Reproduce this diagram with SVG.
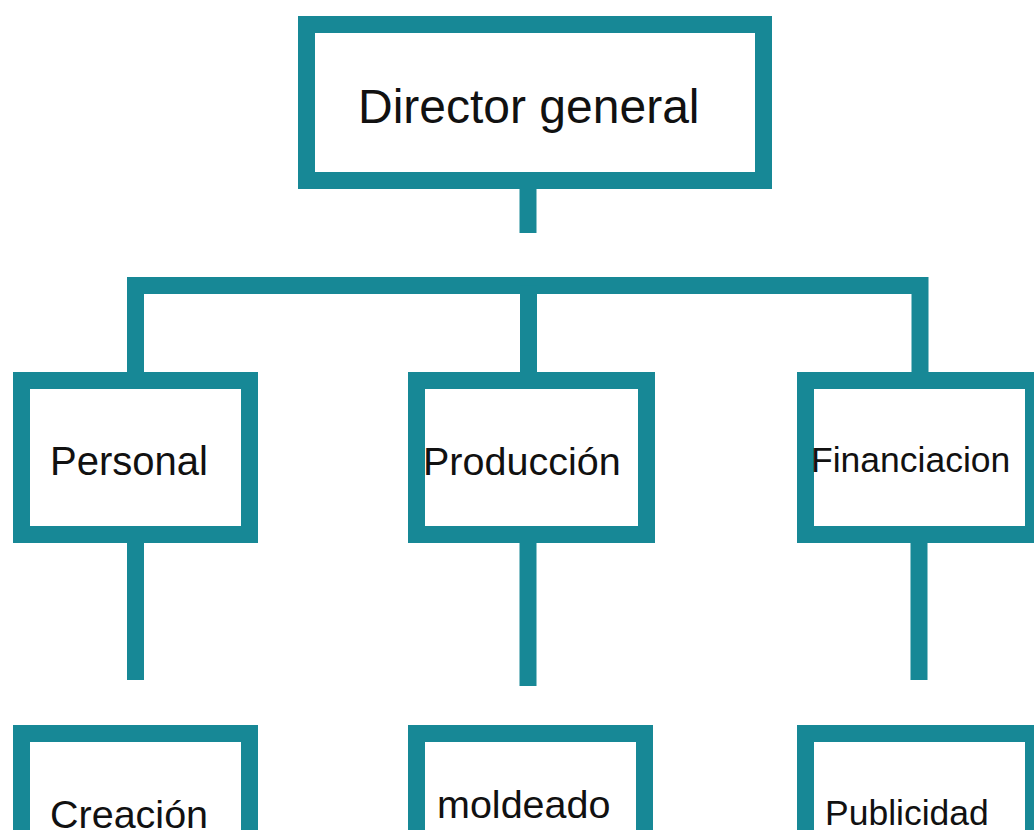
<svg xmlns="http://www.w3.org/2000/svg" width="1034" height="830" viewBox="0 0 1034 830">
<style>
.box{fill:#ffffff;stroke:#178896;stroke-width:17;}
.ln{fill:none;stroke:#178896;stroke-width:17;stroke-linecap:butt;stroke-linejoin:miter;}
.t{font-family:"Liberation Sans",Arial,sans-serif;fill:#111111;}
</style>
<rect width="1034" height="830" fill="#ffffff"/>
<g id="connectors">
<path class="ln" d="M528 189 V233"/>
<path class="ln" d="M135.5 372 V285.5 H920 V372"/>
<path class="ln" d="M528.5 285.5 V372"/>
<path class="ln" d="M135.5 543 V680"/>
<path class="ln" d="M528 543 V686"/>
<path class="ln" d="M919 543 V680"/>
</g>
<g id="director">
<rect class="box" x="306.5" y="24.5" width="457" height="156"/>
<text class="t" x="358" y="123" font-size="48">Director general</text>
</g>
<g id="personal">
<rect class="box" x="21.5" y="380.5" width="228" height="154"/>
<text class="t" x="50" y="475" font-size="40">Personal</text>
</g>
<g id="produccion">
<rect class="box" x="416.5" y="380.5" width="230" height="154"/>
<text class="t" x="423" y="475" font-size="39.5">Producción</text>
</g>
<g id="financiacion">
<rect class="box" x="805.5" y="380.5" width="228" height="154"/>
<text class="t" x="811" y="472" font-size="35.5">Financiacion</text>
</g>
<g id="creacion">
<rect class="box" x="21.5" y="733.5" width="228" height="200"/>
<text class="t" x="50" y="828" font-size="39.5">Creación</text>
</g>
<g id="moldeado">
<rect class="box" x="416.5" y="733.5" width="228" height="200"/>
<text class="t" x="437" y="818" font-size="39.5">moldeado</text>
</g>
<g id="publicidad">
<rect class="box" x="805.5" y="733.5" width="228" height="200"/>
<text class="t" x="825" y="825" font-size="35.5">Publicidad</text>
</g>
</svg>
